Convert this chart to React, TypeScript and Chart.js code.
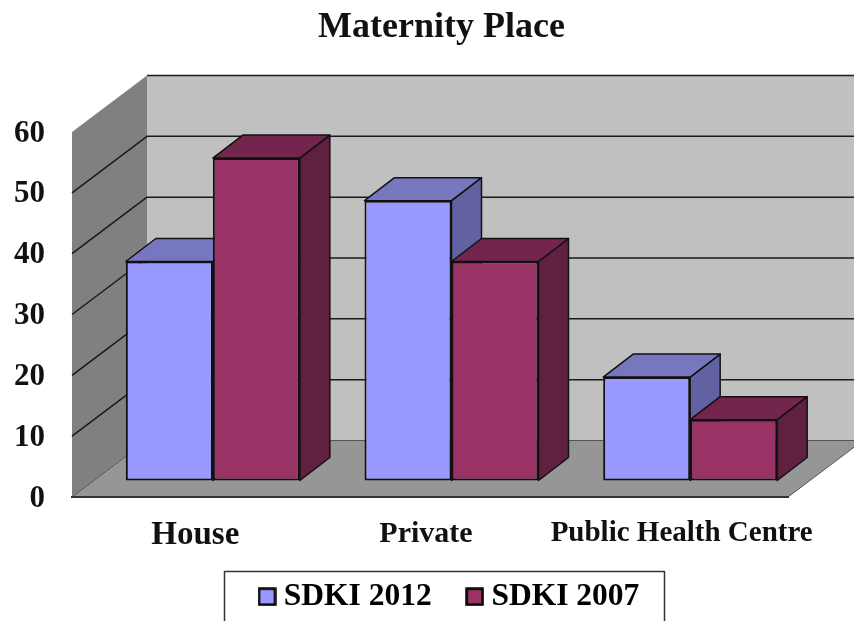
import React, { useEffect, useRef } from "react";
import { Chart, registerables } from "chart.js";

Chart.register(...registerables);

const title = "Maternity Place";
const categories = ["House", "Private", "Public Health Centre"];
const sdki2012 = [36, 46, 17];
const sdki2007 = [53, 36, 10];
const seriesNames = ["SDKI 2012", "SDKI 2007"];
const yTicksStep = 10;
const yMax = 60;

const FONT = "'Liberation Serif', serif";
const INK = "#111111";
const palette = [
  { front: "#9999FF", top: "#7777BF", side: "#6262A3" },
  { front: "#993366", top: "#73264D", side: "#602040" },
];
const WALL_DEPTH = { x: 75, y: -56.5 };
const BAR_SHIFT = { x: 21.5, y: -16.5 };
const BAR_DEPTH = { x: 30, y: -23 };
const LABEL_SHIFT = [4, -4, 13];
const LABEL_SIZE = [33, 30, 29];

function marker(color: string) {
  const c = document.createElement("canvas");
  c.width = 19;
  c.height = 19;
  const g = c.getContext("2d")!;
  g.fillStyle = color;
  g.fillRect(1.5, 1.5, 16, 16);
  g.strokeStyle = "#000";
  g.lineWidth = 2.5;
  g.strokeRect(1.5, 1.5, 16, 16);
  return c;
}

function poly(ctx: CanvasRenderingContext2D, pts: number[][], fill: string, stroke?: string, lw = 1) {
  ctx.beginPath();
  pts.forEach((p, i) => (i ? ctx.lineTo(p[0], p[1]) : ctx.moveTo(p[0], p[1])));
  ctx.closePath();
  ctx.fillStyle = fill;
  ctx.fill();
  if (stroke) {
    ctx.strokeStyle = stroke;
    ctx.lineWidth = lw;
    ctx.lineJoin = "round";
    ctx.stroke();
  }
}

const scene3d = {
  id: "scene3d",
  beforeLayout(chart: any) {
    const legend = chart.legend;
    if (legend && !legend.__patched) {
      const fit = legend.fit;
      legend.fit = function () {
        fit.call(this);
        this.height = 50;
      };
      legend.__patched = true;
    }
  },
  afterLayout(chart: any) {
    const t = chart.titleBlock;
    t.left = 0;
    t.right = 883;
    const l = chart.legend;
    l.left = 224;
    l.right = 854;
    l.top = 539;
  },
  afterUpdate(chart: any) {
    const xs = chart.scales.x;
    xs.getLabelItems(chart.chartArea).forEach((it: any, i: number) => {
      it.options.translation[0] += LABEL_SHIFT[i] || 0;
    });
    const ys = chart.scales.y;
    ys.getLabelItems(chart.chartArea).forEach((it: any) => {
      it.options.translation[1] += 1.5;
    });
  },
  beforeDraw(chart: any) {
    const { ctx, scales, chartArea } = chart;
    const ys = scales.y;
    const { left, right } = chartArea;
    const y0 = ys.getPixelForValue(0);
    const yTop = ys.getPixelForValue(yMax);
    const dx = WALL_DEPTH.x;
    const dy = WALL_DEPTH.y;
    ctx.save();
    poly(ctx, [[left + dx, yTop + dy], [right + dx, yTop + dy], [right + dx, y0 + dy], [left + dx, y0 + dy]], "#C0C0C0");
    poly(ctx, [[left, yTop], [left + dx, yTop + dy], [left + dx, y0 + dy], [left, y0]], "#808080");
    poly(ctx, [[left, y0], [left + dx, y0 + dy], [right + dx, y0 + dy], [right, y0]], "#969696", "#555555", 1);
    ctx.strokeStyle = "#1a1a1a";
    ctx.lineWidth = 1.5;
    ys.ticks.forEach((tk: any) => {
      if (tk.value === 0) return;
      const y = ys.getPixelForValue(tk.value);
      ctx.beginPath();
      if (tk.value !== yMax) {
        ctx.moveTo(left, y);
        ctx.lineTo(left + dx, y + dy);
      } else {
        ctx.moveTo(left + dx, y + dy);
      }
      ctx.lineTo(right + dx, y + dy);
      ctx.stroke();
    });
    ctx.strokeStyle = "#333";
    ctx.lineWidth = 1.5;
    ctx.strokeRect(224.5, 571.5, 440, 70);
    ctx.restore();
  },
  beforeDatasetsDraw(chart: any) {
    const { ctx } = chart;
    ctx.save();
    ctx.translate(BAR_SHIFT.x, BAR_SHIFT.y);
    [0, 1].forEach((ds) => {
      const meta = chart.getDatasetMeta(ds);
      meta.data.forEach((el: any) => {
        const l = el.x - el.width / 2;
        const r = el.x + el.width / 2;
        const a = BAR_DEPTH.x;
        const b = BAR_DEPTH.y;
        const c = palette[ds];
        poly(ctx, [[r, el.y], [r + a, el.y + b], [r + a, el.base + b], [r, el.base]], c.side, "#111", 1.5);
        poly(ctx, [[l, el.y], [l + a, el.y + b], [r + a, el.y + b], [r, el.y]], c.top, "#111", 1.5);
      });
    });
  },
  afterDatasetsDraw(chart: any) {
    chart.ctx.restore();
  },
};

export default function App() {
  const ref = useRef<HTMLCanvasElement>(null);
  useEffect(() => {
    const chart = new Chart(ref.current!, {
      type: "bar",
      data: {
        labels: categories,
        datasets: [
          { label: seriesNames[0], data: sdki2012, backgroundColor: palette[0].front },
          { label: seriesNames[1], data: sdki2007, backgroundColor: palette[1].front },
        ].map((d) => ({
          ...d,
          borderColor: "#111",
          borderWidth: 2,
          borderSkipped: false,
          categoryPercentage: 0.729,
          barPercentage: 1,
          clip: false as any,
        })),
      },
      plugins: [scene3d],
      options: {
        responsive: false,
        animation: false,
        events: [],
        layout: { padding: { left: 0, right: 66, top: 0, bottom: 0 } },
        plugins: {
          tooltip: { enabled: false },
          title: {
            display: true,
            text: title,
            color: INK,
            font: { family: FONT, size: 36, weight: "bold", lineHeight: 1.2 },
            padding: { top: 6, bottom: 82.8 },
          },
          legend: {
            display: true,
            position: "bottom",
            align: "start",
            labels: {
              color: INK,
              font: { family: FONT, size: 31.5, weight: "bold" },
              usePointStyle: true,
              pointStyleWidth: 2,
              padding: 42,
              generateLabels: () =>
                seriesNames.map((n, i) => ({
                  text: n,
                  fillStyle: palette[i].front,
                  strokeStyle: "#000",
                  lineWidth: 0,
                  hidden: false,
                  datasetIndex: i,
                  pointStyle: marker(palette[i].front),
                })),
            },
          },
        },
        scales: {
          x: {
            grid: { display: false },
            border: { display: true, color: "#333", width: 2 },
            afterFit: (s: any) => {
              s.height = 74;
            },
            ticks: {
              color: INK,
              padding: 11,
              maxRotation: 0,
              autoSkip: false,
              font: (c: any) => ({
                family: FONT,
                weight: "bold",
                size: LABEL_SIZE[c.index] || 30,
              }),
            },
          },
          y: {
            min: 0,
            max: yMax,
            grid: { display: false },
            border: { display: false },
            afterFit: (s: any) => {
              s.width = 72;
            },
            ticks: {
              stepSize: yTicksStep,
              color: INK,
              padding: 19,
              font: { family: FONT, size: 31, weight: "bold" },
            },
          },
        },
      } as any,
    });
    return () => chart.destroy();
  }, []);
  return (
    <div style={{ position: "fixed", left: 0, top: 0, width: 854, height: 621, overflow: "hidden", background: "#fff" }}>
      <canvas ref={ref} width={854} height={621} style={{ display: "block" }} />
    </div>
  );
}
